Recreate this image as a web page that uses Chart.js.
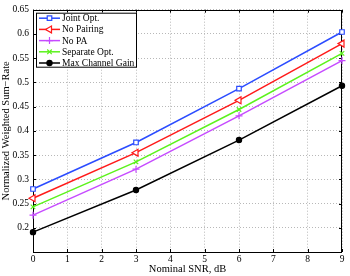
<!DOCTYPE html>
<html>
<head>
<meta charset="utf-8">
<script src="https://cdn.jsdelivr.net/npm/chart.js@4"></script>
<style>
  html, body { margin: 0; padding: 0; background: #fff; }
  #wrap { width: 350px; height: 276px; }
</style>
</head>
<body>
<div id="wrap"><canvas id="grafico"></canvas></div>
<script>
const snr = [0, 3, 6, 9];
const jointOpt = [0.280, 0.376, 0.487, 0.604];
const noPairing = [0.261, 0.355, 0.463, 0.580];
const noPA = [0.226, 0.321, 0.431, 0.545];
const separateOpt = [0.243, 0.336, 0.444, 0.560];
const maxGain = [0.191, 0.278, 0.381, 0.493];
const nombres = ["Joint Opt.", "No Pairing", "No PA", "Separate Opt.", "Max Channel Gain"];

const fuente = "'Liberation Serif', 'DejaVu Serif', serif";

const puntos = vals => vals.map((v, i) => ({ x: snr[i], y: v }));

function serie(label, vals, color, estilo, extra) {
    return Object.assign({
        label: label,
        data: puntos(vals),
        borderColor: color,
        backgroundColor: color,
        pointBorderColor: color,
        pointBackgroundColor: color,
        pointStyle: estilo,
        pointRadius: 3,
        pointBorderWidth: 1.2,
        borderWidth: 1.5,
        tension: 0,
        fill: false,
        clip: false
    }, extra || {});
}

// caja, marcas hacia dentro y leyenda estilo matlab
const marcoPlugin = {
    id: 'marco',
    beforeDatasetsDraw(chart) {
        const ctx = chart.ctx;
        const a = chart.chartArea;
        const sx = chart.scales.x, sy = chart.scales.y;
        ctx.save();
        ctx.strokeStyle = '#000';
        ctx.lineWidth = 1;
        ctx.beginPath();
        sx.ticks.forEach(t => {
            const px = Math.round(sx.getPixelForValue(t.value)) + 0.5;
            ctx.moveTo(px, a.bottom); ctx.lineTo(px, a.bottom - 3);
            ctx.moveTo(px, a.top); ctx.lineTo(px, a.top + 3);
        });
        sy.ticks.forEach(t => {
            const py = Math.round(sy.getPixelForValue(t.value)) + 0.5;
            ctx.moveTo(a.left, py); ctx.lineTo(a.left + 3, py);
            ctx.moveTo(a.right, py); ctx.lineTo(a.right - 3, py);
        });
        ctx.stroke();
        ctx.strokeRect(Math.round(a.left) + 0.5, Math.round(a.top) + 0.5,
            Math.round(a.right - a.left) - 1, Math.round(a.bottom - a.top));
        ctx.restore();
    },
    afterDraw(chart) {
        const ctx = chart.ctx;
        const a = chart.chartArea;
        ctx.save();
        const lx = a.left + 3, ly = a.top + 3, lw = 100, lh = 54;
        ctx.fillStyle = '#fff';
        ctx.fillRect(lx, ly, lw, lh);
        ctx.strokeStyle = '#000';
        ctx.lineWidth = 1;
        ctx.strokeRect(lx + 0.5, ly + 0.5, lw, lh);
        ctx.font = "9.5px " + fuente;
        ctx.textBaseline = 'middle';
        chart.data.datasets.forEach((ds, i) => {
            const y = ly + 5.5 + i * 11.2;
            ctx.strokeStyle = ds.borderColor;
            ctx.lineWidth = 1.5;
            ctx.beginPath();
            ctx.moveTo(lx + 3, y); ctx.lineTo(lx + 24, y);
            ctx.stroke();
            ctx.lineWidth = ds.pointBorderWidth;
            ctx.fillStyle = ds.pointBackgroundColor;
            Chart.helpers.drawPoint(ctx, {
                pointStyle: ds.pointStyle,
                rotation: ds.pointRotation || 0,
                radius: ds.pointRadius,
                borderWidth: ds.pointBorderWidth
            }, lx + 13.5, y);
            ctx.fillStyle = '#000';
            ctx.fillText(ds.label, lx + 26, y + 0.5);
        });
        ctx.restore();
    }
};

new Chart(document.getElementById('grafico'), {
    type: 'line',
    data: {
        datasets: [
            serie(nombres[0], jointOpt, '#2b4cff', 'rect', { pointBackgroundColor: '#fff', pointRadius: 3.2 }),
            serie(nombres[1], noPairing, '#ff1a1a', 'triangle', { pointBackgroundColor: '#fff', pointRotation: -90, pointRadius: 4 }),
            serie(nombres[2], noPA, '#c64bff', 'cross', { pointRadius: 3.5 }),
            serie(nombres[3], separateOpt, '#5cf21c', 'crossRot', { pointRadius: 3.2 }),
            serie(nombres[4], maxGain, '#000000', 'circle', { pointRadius: 2.6 })
        ]
    },
    options: {
        responsive: true,
        maintainAspectRatio: false,
        animation: false,
        layout: { padding: { top: 8, right: 8, left: 0, bottom: 0 } },
        plugins: {
            legend: { display: false },
            tooltip: { enabled: false }
        },
        scales: {
            x: {
                type: 'linear',
                min: 0,
                max: 9,
                ticks: {
                    stepSize: 1,
                    padding: 2,
                    color: '#000',
                    font: { family: fuente, size: 9.5 }
                },
                grid: { color: '#b8b8b8', borderDash: [1, 2], drawTicks: false },
                border: { display: false, dash: [1, 2] },
                title: {
                    display: true,
                    text: 'Nominal SNR, dB',
                    color: '#000',
                    font: { family: fuente, size: 10.5 },
                    padding: { top: 0, bottom: 0 }
                },
                afterFit: s => { s.height = 24; }
            },
            y: {
                min: 0.15,
                max: 0.65,
                ticks: {
                    stepSize: 0.05,
                    padding: 4,
                    color: '#000',
                    font: { family: fuente, size: 9.5 },
                    callback: v => v < 0.17 ? '' : String(+v.toFixed(2))
                },
                grid: { color: '#b8b8b8', borderDash: [1, 2], drawTicks: false },
                border: { display: false, dash: [1, 2] },
                title: {
                    display: true,
                    text: 'Normalized Weighted Sum\u2212Rate',
                    color: '#000',
                    font: { family: fuente, size: 10.5 },
                    padding: { top: 0, bottom: 2 }
                },
                afterFit: s => { s.width = 33; }
            }
        }
    },
    plugins: [marcoPlugin]
});
</script>
</body>
</html>
